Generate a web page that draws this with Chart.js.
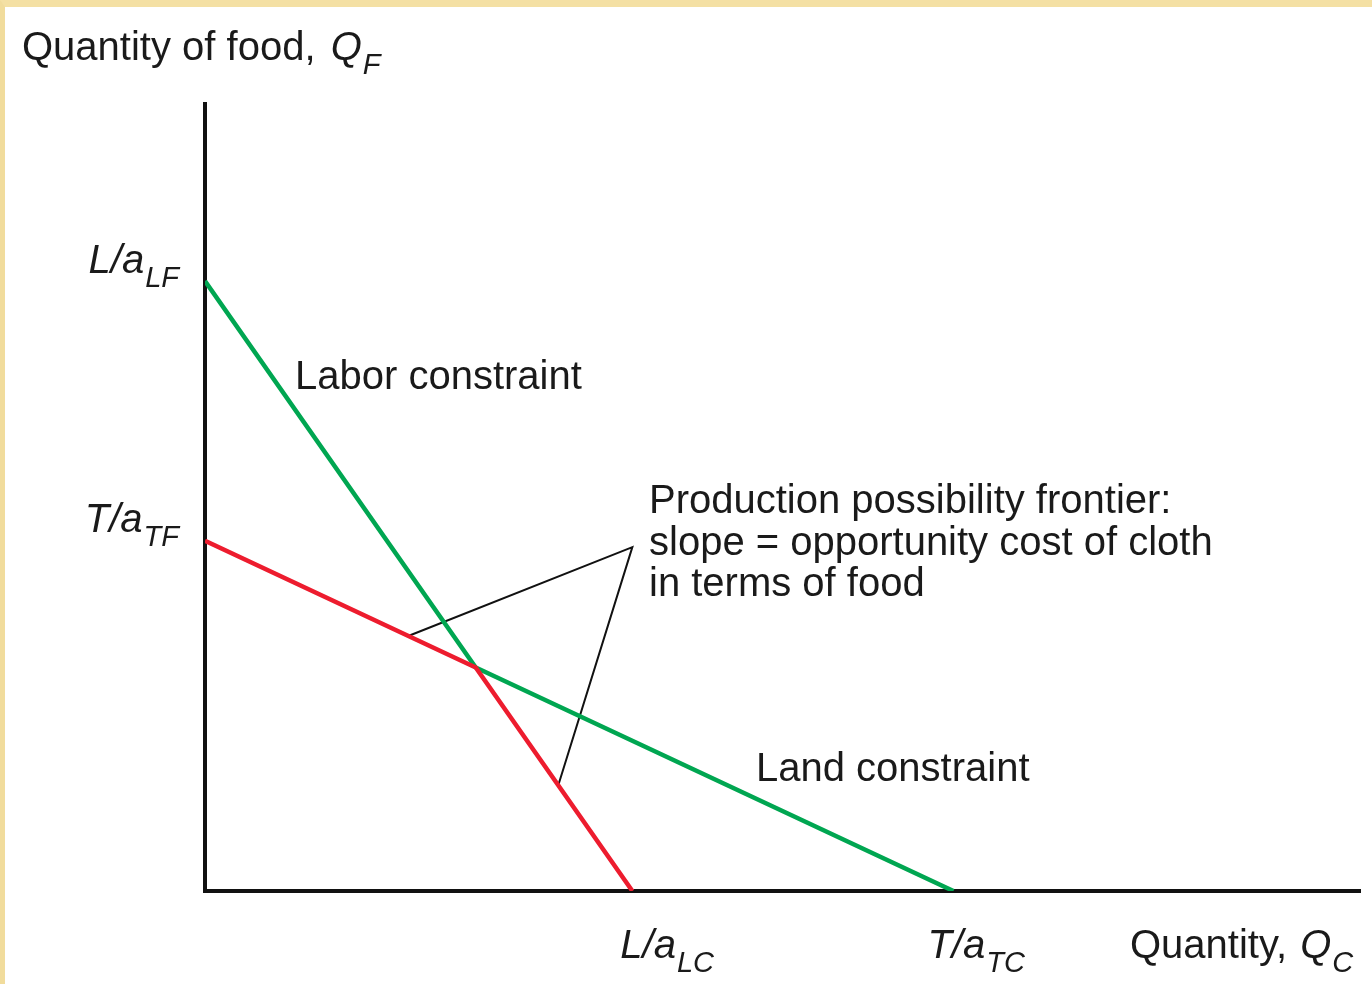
<!DOCTYPE html>
<html>
<head>
<meta charset="utf-8">
<script src="https://cdn.jsdelivr.net/npm/chart.js@4.4.1/dist/chart.umd.min.js"></script>
<style>
  html, body { margin: 0; padding: 0; background: #fff; }
  #wrap {
    position: relative; width: 1372px; height: 984px; background: #fff;
    box-sizing: border-box;
    border-top: 7px solid #f4e0a4;
    border-left: 5px solid #f1dc9c;
  }
  canvas { position: absolute; left: -5px; top: -7px; }
</style>
</head>
<body>
<div id="wrap"><canvas id="ppfChart" width="1372" height="984"></canvas></div>
<script>
// Intercepts (axis units 0..100)
var laborFood = 77.5;   // L/aLF
var landFood = 44.5;    // T/aTF
var laborCloth = 37;    // L/aLC
var landCloth = 64.8;   // T/aTC

// Pointer lines from the PPF note to the two red segments
var pointerX = [17.6, 37, 30.6];
var pointerY = [32.4, 43.7, 13.5];

// Kink where the two constraints cross
var kinkX = (laborFood - landFood) / (laborFood / laborCloth - landFood / landCloth);
var kinkY = laborFood - laborFood / laborCloth * kinkX;

var greenLine = [{x: 0, y: laborFood}, {x: kinkX, y: kinkY}, {x: landCloth, y: 0}];
var redLine = [{x: 0, y: landFood}, {x: kinkX, y: kinkY}, {x: laborCloth, y: 0}];
var pointerLine = pointerX.map(function (v, i) { return {x: v, y: pointerY[i]}; });

var FONT = '"Liberation Sans", Arial, Helvetica, sans-serif';

// draw italic symbol with italic subscript, e.g. L/a + LF
function symbolText(ctx, main, sub, x, y, align) {
    ctx.font = 'italic 40px ' + FONT;
    var w1 = ctx.measureText(main).width;
    ctx.font = 'italic 29px ' + FONT;
    var w2 = ctx.measureText(sub).width;
    var start = align === 'right' ? x - w1 - w2 : x;
    ctx.textAlign = 'left';
    ctx.font = 'italic 40px ' + FONT;
    ctx.fillText(main, start, y);
    ctx.font = 'italic 29px ' + FONT;
    ctx.fillText(sub, start + w1 + 1, y + 14);
}

var labelsPlugin = {
    id: 'labels',
    afterDraw: function (chart) {
        var ctx = chart.ctx;
        var xs = chart.scales.x, ys = chart.scales.y;
        ctx.save();
        ctx.fillStyle = '#1a1a1a';
        ctx.textBaseline = 'alphabetic';

        // axis titles
        ctx.font = '40px ' + FONT;
        ctx.textAlign = 'left';
        var t1 = 'Quantity of food, ';
        ctx.fillText(t1, 22, 60);
        symbolText(ctx, 'Q', 'F', 22 + ctx.measureText(t1).width + 4, 60, 'left');

        ctx.font = '40px ' + FONT;
        var t2 = 'Quantity, ';
        ctx.fillText(t2, 1130, 958);
        symbolText(ctx, 'Q', 'C', 1130 + ctx.measureText(t2).width + 2, 958, 'left');

        // intercept labels
        symbolText(ctx, 'L/a', 'LF', ys.left - 27, ys.getPixelForValue(laborFood) - 8, 'right');
        symbolText(ctx, 'T/a', 'TF', ys.left - 27, ys.getPixelForValue(landFood) - 9, 'right');
        symbolText(ctx, 'L/a', 'LC', xs.getPixelForValue(laborCloth) - 12, 958, 'left');
        symbolText(ctx, 'T/a', 'TC', xs.getPixelForValue(landCloth) - 26, 958, 'left');

        // notes
        ctx.font = '40px ' + FONT;
        ctx.textAlign = 'left';
        ctx.fillText('Labor constraint', 295, 389);
        ctx.fillText('Production possibility frontier:', 649, 513);
        ctx.fillText('slope = opportunity cost of cloth', 649, 555);
        ctx.fillText('in terms of food', 649, 596);
        ctx.fillText('Land constraint', 756, 781);
        ctx.restore();
    }
};

var ctx = document.getElementById('ppfChart').getContext('2d');
var ppfChart = new Chart(ctx, {
    type: 'scatter',
    data: {
        datasets: [
            {
                label: 'Pointer',
                data: pointerLine,
                showLine: true,
                borderColor: '#111111',
                borderWidth: 2,
                pointRadius: 0,
                order: 3
            },
            {
                label: 'Constraints',
                data: greenLine,
                showLine: true,
                borderColor: '#00a651',
                borderWidth: 4.5,
                pointRadius: 0,
                order: 2
            },
            {
                label: 'PPF',
                data: redLine,
                showLine: true,
                borderColor: '#ed1c2e',
                borderWidth: 4.5,
                pointRadius: 0,
                order: 1
            }
        ]
    },
    options: {
        responsive: false,
        animation: false,
        events: [],
        layout: {
            padding: {left: 205, right: 12, top: 104, bottom: 93}
        },
        scales: {
            x: {
                type: 'linear',
                min: 0,
                max: 100,
                grid: { display: false, drawTicks: false },
                ticks: { display: false },
                border: { display: true, color: '#111111', width: 4 }
            },
            y: {
                type: 'linear',
                min: 0,
                max: 100,
                grid: { display: false, drawTicks: false },
                ticks: { display: false },
                border: { display: true, color: '#111111', width: 4 }
            }
        },
        plugins: {
            legend: { display: false },
            tooltip: { enabled: false }
        }
    },
    plugins: [labelsPlugin]
});
</script>
</body>
</html>
